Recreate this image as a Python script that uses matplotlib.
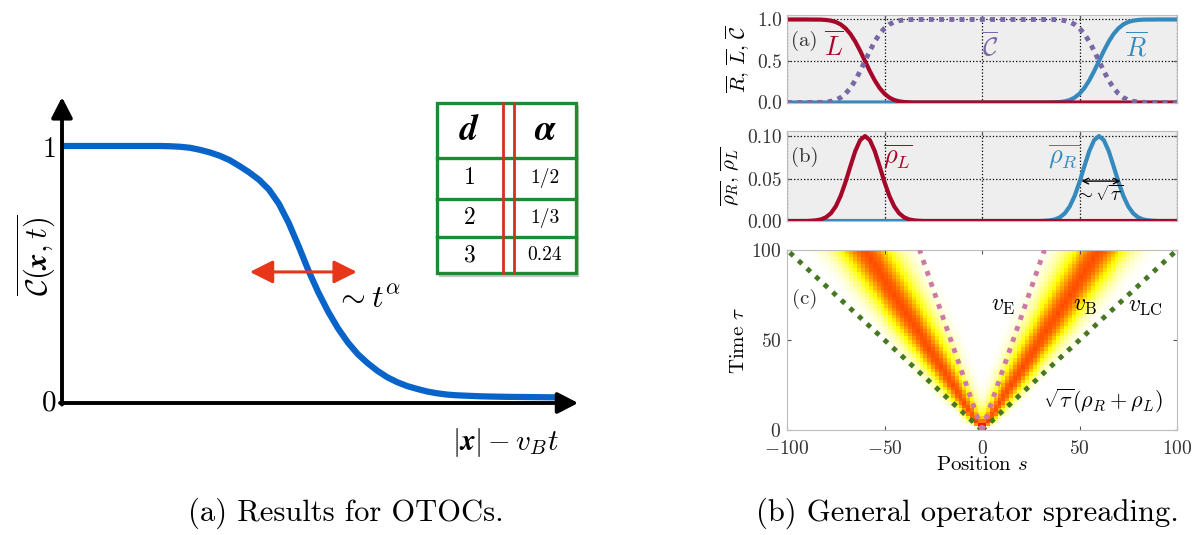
import numpy as np
import matplotlib.pyplot as plt

plt.rcParams['font.family'] = 'serif'
plt.rcParams['font.serif'] = ['cmr10']
plt.rcParams['mathtext.fontset'] = 'cm'
plt.rcParams['axes.formatter.use_mathtext'] = True

# --- left sketch: averaged OTOC profile
front_x = [0, 0.20, 0.22, 0.24, 0.26, 0.28, 0.30, 0.32, 0.34, 0.36, 0.38, 0.40, 0.42,
           0.44, 0.46, 0.48, 0.50, 0.52, 0.54, 0.56, 0.58, 0.60, 0.62, 0.64, 0.66,
           0.68, 0.70, 0.72, 0.74, 0.76, 0.78, 0.80, 0.85, 0.90, 1.0]
front_C = [1, 1, 0.999, 0.997, 0.993, 0.985, 0.975, 0.962, 0.945, 0.922, 0.897, 0.868,
           0.83, 0.775, 0.70, 0.61, 0.515, 0.43, 0.355, 0.29, 0.235, 0.19, 0.155, 0.125,
           0.10, 0.081, 0.066, 0.055, 0.045, 0.038, 0.033, 0.03, 0.026, 0.024, 0.022]

table_d = ['1', '2', '3']
table_alpha = ['1/2', '1/3', '0.24']

# --- right panels: profiles on the left half s = -100 .. 0 (step 2.5), mirrored for the right
s_half = np.arange(-100, 0.1, 2.5)
L_half = [1.0, 1.0, 1.0, 1.0, 1.0, 0.999, 0.999, 0.998, 0.994, 0.986, 0.970, 0.941,
          0.894, 0.826, 0.734, 0.623, 0.5, 0.377, 0.266, 0.174, 0.106, 0.059,
          0.030, 0.014, 0.006, 0.002, 0.0, 0.0, 0.0, 0.0, 0.0, 0.0, 0.0, 0.0,
          0.0, 0.0, 0.0, 0.0, 0.0, 0.0, 0.0]
rhoL_half = [0.0, 0.0, 0.0, 0.0, 0.0, 0.0003, 0.0008, 0.0019, 0.0044, 0.0091, 0.0172,
             0.0295, 0.0458, 0.0644, 0.0823, 0.0952, 0.1, 0.0952, 0.0823, 0.0644,
             0.0458, 0.0295, 0.0172, 0.0091, 0.0044, 0.0019, 0.0008, 0.0003, 0.0,
             0.0, 0.0, 0.0, 0.0, 0.0, 0.0, 0.0, 0.0, 0.0, 0.0, 0.0, 0.0]

# front speeds for panel (c)
v_B = 0.6
v_E = 0.32
v_LC = 1.0
# shape of the front across its width, in units of sqrt(tau)
band_u = [0, 0.4, 0.8, 1.2, 1.6, 2.0, 2.4, 2.8, 3.2]
band_level = [1.0, 0.92, 0.72, 0.48, 0.28, 0.14, 0.06, 0.02, 0.0]

s = np.concatenate([s_half, -s_half[::-1][1:]])
L_bar = np.concatenate([L_half, np.zeros(len(s_half) - 1)])
R_bar = L_bar[::-1]
C_bar = 1 - L_bar - R_bar
rho_L = np.concatenate([rhoL_half, np.zeros(len(s_half) - 1)])
rho_R = rho_L[::-1]

red = '#A60628'
blue = '#348ABD'
purple = '#7A68A6'
green = '#467821'
pink = '#CC79A7'
grey_txt = '#333333'

W, H = 1194, 535
fig = plt.figure(figsize=(W / 100, H / 100), dpi=100)


def px_axes(left, right, top, bottom):
    return fig.add_axes([left / W, 1 - bottom / H, (right - left) / W, (bottom - top) / H])


# ---------- (a) sketch ----------
ax0 = px_axes(62, 555, 146, 403)
ax0.set_xlim(0, 1)
ax0.set_ylim(0, 1)
ax0.axis('off')
ax0.plot(front_x, front_C, color='#0864c8', lw=4.5, solid_capstyle='butt',
         solid_joinstyle='round', clip_on=False, zorder=3)
arrow_kw = dict(arrowstyle='-|>,head_length=0.62,head_width=0.32', color='k', lw=2.8,
                mutation_scale=20, shrinkA=0, shrinkB=0)
ax0.annotate('', xy=(0, 1.19), xytext=(0, -0.006), arrowprops=arrow_kw, annotation_clip=False)
ax0.annotate('', xy=(1.047, 0), xytext=(-0.004, 0), arrowprops=arrow_kw, annotation_clip=False)
ax0.text(-0.026, 0.984, '1', fontsize=20, ha='center', va='center')
ax0.text(-0.026, 0.0, '0', fontsize=21, ha='center', va='center')
ax0.text(-0.053, 0.576, r'$\overline{\mathcal{C}(\boldsymbol{x},t)}$', fontsize=22,
         rotation=90, ha='center', va='center')
ax0.text(0.9, -0.152, r'$|\boldsymbol{x}|-v_Bt$', fontsize=21, ha='center', va='center')
ax0.annotate('', xy=(0.381, 0.51), xytext=(0.598, 0.51), annotation_clip=False,
             arrowprops=dict(arrowstyle='<|-|>,head_length=0.7,head_width=0.35', color='#e8361a',
                             lw=2.2, mutation_scale=20, shrinkA=0, shrinkB=0))
ax0.text(0.554, 0.40, r'$\sim t^{\alpha}$', fontsize=23, ha='left', va='center')

# overlay in pixel units for the table and the captions
ov = fig.add_axes([0, 0, 1, 1])
ov.set_xlim(0, W)
ov.set_ylim(H, 0)
ov.axis('off')
ov.patch.set_alpha(0)

tx0, tx1, ty0, ty1 = 437, 576, 103, 273
row_y = [158, 199, 237]
ov.add_patch(plt.Rectangle((tx0 + 2, ty0 + 3), tx1 - tx0, ty1 - ty0, color='#c8c8c8', zorder=1))
ov.add_patch(plt.Rectangle((tx0, ty0), tx1 - tx0, ty1 - ty0, facecolor='white',
                           edgecolor='#1e8a32', lw=2.4, zorder=2))
for yy in row_y:
    ov.plot([tx0, tx1], [yy, yy], color='#1e8a32', lw=2.4, zorder=3)
for xx in [503, 514]:
    ov.plot([xx, xx], [ty0, ty1], color='#d2321e', lw=2.0, zorder=4)
ov.text(470, 131, r'$\boldsymbol{d}$', fontsize=26, ha='center', va='center', zorder=5)
ov.text(545, 131, r'$\boldsymbol{\alpha}$', fontsize=26, ha='center', va='center', zorder=5)
row_mid = [178, 218, 255]
for yy, dv, av in zip(row_mid, table_d, table_alpha):
    ov.text(470, yy, dv, fontsize=17, ha='center', va='center', zorder=5)
    ov.text(545, yy, av, fontsize=14, ha='center', va='center', zorder=5)

ov.text(346, 513, '(a) Results for OTOCs.', fontsize=22, ha='center', va='center')
ov.text(967, 513, '(b) General operator spreading.', fontsize=22, ha='center', va='center')


# ---------- right column ----------
def style_panel(ax):
    ax.set_facecolor('#eeeeee')
    for sp in ax.spines.values():
        sp.set_color('#bcbcbc')
    ax.grid(True, color='k', ls=':', lw=0.9)
    ax.set_axisbelow(True)
    ax.tick_params(direction='in', length=3, top=True, right=True, color='#555555',
                   labelsize=14, labelcolor=grey_txt, labelbottom=False)
    ax.set_xlim(-100, 100)
    ax.set_xticks([-100, -50, 0, 50, 100])


axa = px_axes(787, 1177, 14.5, 102.5)
style_panel(axa)
axa.set_ylim(0, 1.06)
axa.set_yticks([0, 0.5, 1.0])
axa.set_yticklabels(['0.0', '0.5', '1.0'])
axa.plot(s, R_bar, color=blue, lw=3)
axa.plot(s, L_bar, color=red, lw=3)
axa.plot(s, C_bar, color=purple, lw=3.5, ls=(0, (1, 1.1)))
axa.text(-91, 0.74, '(a)', fontsize=15, color=grey_txt, ha='center', va='center')
axa.text(-76, 0.68, r'$\overline{L}$', fontsize=19, color=red, ha='center', va='center')
axa.text(4, 0.68, r'$\overline{\mathcal{C}}$', fontsize=19, color=purple, ha='center', va='center')
axa.text(79, 0.68, r'$\overline{R}$', fontsize=19, color=blue, ha='center', va='center')
axa.set_ylabel(r'$\overline{R},\,\overline{L},\,\overline{\mathcal{C}}$', fontsize=15, labelpad=4)

axb = px_axes(787, 1177, 131, 221)
style_panel(axb)
axb.set_ylim(0, 0.106)
axb.set_yticks([0, 0.05, 0.10])
axb.set_yticklabels(['0.00', '0.05', '0.10'])
axb.plot(s, rho_R, color=blue, lw=3)
axb.plot(s, rho_L, color=red, lw=3)
axb.text(-91, 0.075, '(b)', fontsize=15, color=grey_txt, ha='center', va='center')
axb.text(-43, 0.076, r'$\overline{\rho_L}$', fontsize=19, color=red, ha='center', va='center')
axb.text(42, 0.076, r'$\overline{\rho_R}$', fontsize=19, color=blue, ha='center', va='center')
axb.annotate('', xy=(51, 0.047), xytext=(71, 0.047),
             arrowprops=dict(arrowstyle='<->', color='k', lw=1, shrinkA=0, shrinkB=0))
axb.text(60, 0.031, r'$\sim\sqrt{\tau}$', fontsize=14, ha='center', va='center')
axb.set_ylabel(r'$\overline{\rho_R},\,\overline{\rho_L}$', fontsize=15, labelpad=4)

axc = px_axes(787, 1177, 250, 430)
s_cells = np.arange(-99, 100, 2)
t_cells = np.arange(1, 100, 2)
S, T = np.meshgrid(s_cells, t_cells)
front = (np.interp(np.abs(S - v_B * T) / np.sqrt(T), band_u, band_level)
         + np.interp(np.abs(S + v_B * T) / np.sqrt(T), band_u, band_level))
axc.imshow(front, cmap='hot_r', vmin=0, vmax=1.92, origin='lower', aspect='auto',
           extent=(-100, 100, 0, 100), interpolation='nearest')
tau_line = np.array([0, 100])
for v, col in [(v_LC, green), (v_E, pink)]:
    axc.plot(v * tau_line, tau_line, color=col, lw=3.5, ls=(0, (1, 1.4)), zorder=3)
    axc.plot(-v * tau_line, tau_line, color=col, lw=3.5, ls=(0, (1, 1.4)), zorder=3)
axc.set_xlim(-100, 100)
axc.set_ylim(0, 100)
axc.set_xticks([-100, -50, 0, 50, 100])
axc.set_yticks([0, 50, 100])
for sp in axc.spines.values():
    sp.set_color('#bcbcbc')
axc.tick_params(direction='in', length=3, top=True, right=True, color='#555555',
                labelsize=14, labelcolor=grey_txt)
axc.tick_params(axis='x', pad=7)
axc.tick_params(axis='y', pad=4)
axc.text(-91, 73, '(c)', fontsize=15, color=grey_txt, ha='center', va='center')
axc.text(11, 69, r'$v_{\rm E}$', fontsize=17, ha='center', va='center')
axc.text(53, 69, r'$v_{\rm B}$', fontsize=17, ha='center', va='center')
axc.text(84, 69, r'$v_{\rm LC}$', fontsize=17, ha='center', va='center')
axc.text(62, 16, r'$\sqrt{\tau}(\rho_R+\rho_L)$', fontsize=16, ha='center', va='center')
axc.set_ylabel(r'Time $\tau$', fontsize=15, labelpad=2)
axc.set_xlabel(r'Position $s$', fontsize=15, labelpad=-1)

fig.savefig('out.png', dpi=100)
